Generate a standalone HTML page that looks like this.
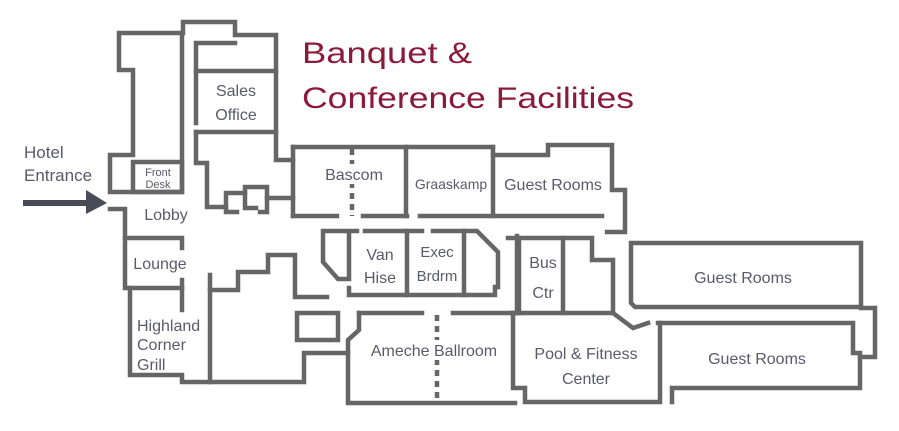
<!DOCTYPE html>
<html><head><meta charset="utf-8"><style>
html,body{margin:0;padding:0;background:#fff;}
svg{display:block}
text{font-family:"Liberation Sans",sans-serif;fill:#5a5a6a;}
</style></head><body>
<svg width="899" height="431" viewBox="0 0 899 431" xmlns="http://www.w3.org/2000/svg">
<g fill="none" stroke="#666" stroke-width="4.5" stroke-linejoin="miter" stroke-linecap="square">
<polyline points="182,192 110,192 110,155 133,155 133,70 119,70 119,33 182,33 182,192"/>
<rect x="133" y="162" width="49" height="30"/>
<polyline points="183,33 183,22 235,22 235,35 276,35 276,160 293,160"/>
<polyline points="196,123 196,43 235,43"/>
<line x1="196" y1="71" x2="276" y2="71"/>
<line x1="196" y1="132" x2="276" y2="132"/>
<polyline points="293,198 267,198"/>
<polyline points="196,132 196,163 207,163 207,207 226,207 226,212 237,212"/>
<polyline points="226,207 226,193 245,193 245,208 256,208"/>
<polyline points="245,193 245,187 267,187 267,212 260,212"/>
<polyline points="293,147 493,147"/>
<line x1="293" y1="147" x2="293" y2="216"/>
<line x1="406" y1="147" x2="406" y2="216"/>
<line x1="493" y1="147" x2="493" y2="216"/>
<line x1="293" y1="216" x2="337" y2="216"/>
<line x1="363" y1="216" x2="407" y2="216"/>
<line x1="420" y1="216" x2="602" y2="216"/>
<line x1="352" y1="149" x2="352" y2="216" stroke-dasharray="6,5" stroke-linecap="butt"/>
<polyline points="493,155 548,155 548,145 612,145 612,190 625,190 625,232 607,232"/>
<polyline points="357,231 323,231 323,262 338,279 349,279 349,231"/>
<line x1="365" y1="231" x2="422" y2="231"/>
<polyline points="433,231 477,231 498,252 498,287 495,287 495,295 349,295 349,288"/>
<line x1="407" y1="231" x2="407" y2="295"/>
<line x1="464" y1="231" x2="464" y2="295"/>
<line x1="517" y1="236" x2="517" y2="313"/>
<polyline points="508,238 592,238 592,260 613,260 613,313 633,328 648,323"/>
<line x1="519" y1="238" x2="519" y2="313"/>
<line x1="563" y1="238" x2="563" y2="313"/>
<line x1="512" y1="313" x2="613" y2="313"/>
<polyline points="513,313 513,388 525,388 525,402 660,402 660,323"/>
<polyline points="658,323 853,323 853,353 860,353 860,388 672,388 672,402"/>
<polyline points="631,243 861,243 861,307 635,307 631,303 631,243"/>
<polyline points="861,308 875,308 875,357 860,357"/>
<line x1="359" y1="313" x2="422" y2="313"/>
<line x1="453" y1="313" x2="520" y2="313"/>
<polyline points="359,313 359,330 348,340 348,403 515,403"/>
<line x1="437" y1="315" x2="437" y2="403" stroke-dasharray="6,5" stroke-linecap="butt"/>
<polyline points="110,209 125,209 125,288 182,288"/>
<polyline points="125,238 182,238 182,248"/>
<line x1="182" y1="280" x2="182" y2="310"/>
<polyline points="130,288 130,375 182,375 182,382 304,382 304,353 348,353"/>
<line x1="210" y1="275" x2="210" y2="382"/>
<polyline points="210,290 238,290 238,272 268,272 268,255 295,255 295,297 327,297"/>
<rect x="297" y="313" width="41" height="27"/>
</g>
<rect x="322" y="164" width="64" height="20" fill="#fff"/>
<rect x="364" y="340" width="140" height="20" fill="#fff"/>
<line x1="23" y1="203" x2="90" y2="203" stroke="#4a4a58" stroke-width="6"/>
<polygon points="86,190 107,203 86,214" fill="#4a4a58"/>
<text x="24" y="158" font-size="17">Hotel</text>
<text x="24" y="181" font-size="17">Entrance</text>
<text x="158" y="176" font-size="11" text-anchor="middle">Front</text>
<text x="158" y="188" font-size="11" text-anchor="middle">Desk</text>
<text x="236" y="96" font-size="16" text-anchor="middle">Sales</text>
<text x="236" y="120" font-size="16" text-anchor="middle">Office</text>
<text x="166" y="220" font-size="16" text-anchor="middle">Lobby</text>
<text x="160" y="269" font-size="16" text-anchor="middle">Lounge</text>
<text x="137" y="331" font-size="16">Highland</text>
<text x="137" y="350" font-size="16">Corner</text>
<text x="137" y="370" font-size="16">Grill</text>
<text x="354" y="180" font-size="16" text-anchor="middle">Bascom</text>
<text x="451" y="189" font-size="14" text-anchor="middle">Graaskamp</text>
<text x="553" y="190" font-size="16" text-anchor="middle">Guest Rooms</text>
<text x="380" y="260" font-size="16" text-anchor="middle">Van</text>
<text x="380" y="283" font-size="16" text-anchor="middle">Hise</text>
<text x="437" y="257" font-size="15" text-anchor="middle">Exec</text>
<text x="437" y="281" font-size="15" text-anchor="middle">Brdrm</text>
<text x="543" y="268" font-size="16" text-anchor="middle">Bus</text>
<text x="543" y="298" font-size="16" text-anchor="middle">Ctr</text>
<text x="434" y="356" font-size="16" text-anchor="middle">Ameche Ballroom</text>
<text x="586" y="359" font-size="16" text-anchor="middle">Pool &amp; Fitness</text>
<text x="586" y="384" font-size="16" text-anchor="middle">Center</text>
<text x="743" y="283" font-size="16" text-anchor="middle">Guest Rooms</text>
<text x="757" y="364" font-size="16" text-anchor="middle">Guest Rooms</text>
<text x="302" y="63" font-size="30" style="fill:#8b1a3a" textLength="170" lengthAdjust="spacingAndGlyphs">Banquet &amp;</text>
<text x="302" y="108" font-size="30" style="fill:#8b1a3a" textLength="332" lengthAdjust="spacingAndGlyphs">Conference Facilities</text>
</svg>
</body></html>
